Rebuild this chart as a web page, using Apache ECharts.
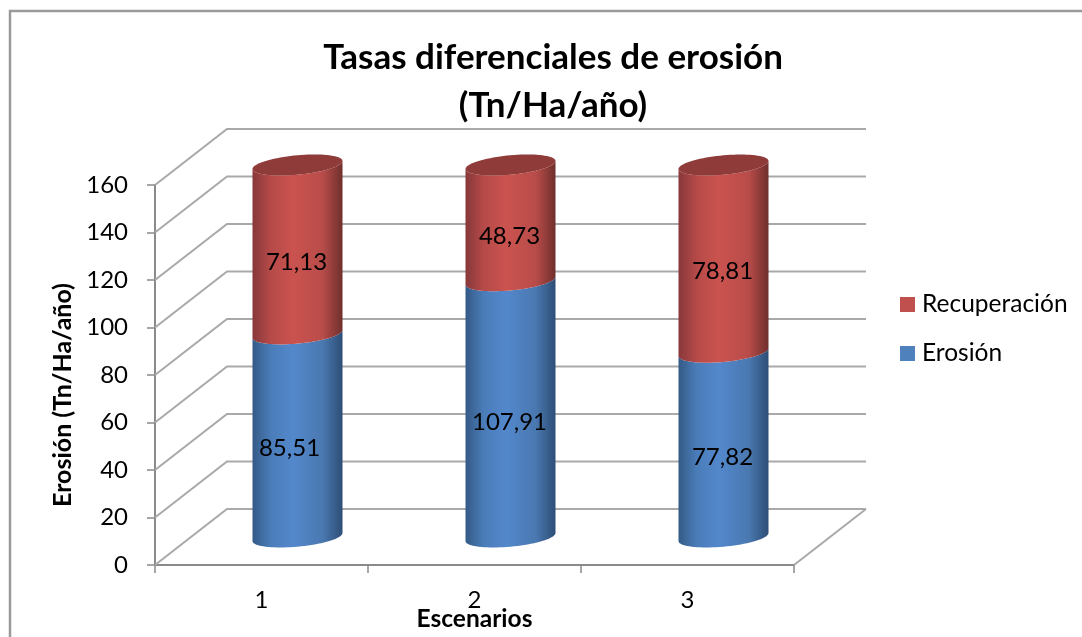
<!DOCTYPE html>
<html>
<head>
<meta charset="utf-8">
<style>
html, body { margin: 0; padding: 0; background: #fff; }
#chart { width: 1082px; height: 637px; }
</style>
<script src="https://cdn.jsdelivr.net/npm/echarts@6/dist/echarts.min.js"></script>
</head>
<body>
<div id="chart"></div>
<script>
const categories = ['1', '2', '3']
const yTicks = [0, 20, 40, 60, 80, 100, 120, 140, 160]
const erosion = [85.51, 107.91, 77.82]
const recovery = [71.13, 48.73, 78.81]

// 3D look: depth of the chart box and shape of the cylinders, in px
const depthX = 72
const depthY = 56
const radiusX = 45
const radiusY = 9.7
const tilt = -4

const fontName = 'Lato'
const blueStops = ['#345a86', '#4a7cb8', '#5388cc', '#4a78b0', '#2d4e76']
const redStops = ['#87383a', '#b54a48', '#cb534f', '#b84c49', '#6f2f2d']

const fmt = v => v.toFixed(2).replace('.', ',')

function sideGradient(c) {
    return {
        type: 'linear', x: 0, y: 0, x2: 1, y2: 0,
        colorStops: [
            { offset: 0, color: c[0] },
            { offset: 0.2, color: c[1] },
            { offset: 0.45, color: c[2] },
            { offset: 0.78, color: c[3] },
            { offset: 1, color: c[4] }
        ]
    }
}

function ellipsePoint(cx, cy, t) {
    return [cx + radiusX * Math.cos(t), cy + tilt * Math.cos(t) + radiusY * Math.sin(t)]
}

// body between two heights, both edges bulge downwards
function cylinderBody(cx, yBottom, yTop) {
    const pts = []
    for (let i = 0; i <= 40; i++) pts.push(ellipsePoint(cx, yBottom, Math.PI * i / 40))
    for (let i = 40; i >= 0; i--) pts.push(ellipsePoint(cx, yTop, Math.PI * i / 40))
    return pts
}

function topCap(cx, y) {
    const pts = []
    for (let i = 0; i < 80; i++) pts.push(ellipsePoint(cx, y, 2 * Math.PI * i / 80))
    return pts
}

function renderWall(params, api) {
    const sys = params.coordSys
    const left = sys.x
    const right = sys.x + sys.width
    const y = api.coord([0, api.value(0)])[1]
    const lineStyle = { stroke: '#a9a9a9', lineWidth: 2, fill: null }
    const children = [{
        type: 'polyline',
        shape: { points: [[left, y], [left + depthX, y - depthY], [right + depthX, y - depthY]] },
        style: lineStyle
    }]
    if (params.dataIndex === 0) {
        children.push({
            type: 'line',
            shape: { x1: right, y1: y, x2: right + depthX, y2: y - depthY },
            style: lineStyle
        })
    }
    return { type: 'group', children }
}

function renderCylinder(stops, isTop, labelShift) {
    return function (params, api) {
        const i = params.dataIndex
        const base = api.value(1)
        const val = api.value(2)
        const front = api.coord([i, base])
        const frontTop = api.coord([i, base + val])
        const cx = front[0] + depthX / 2
        const yB = front[1] - depthY / 2
        const yT = frontTop[1] - depthY / 2
        const children = [{
            type: 'polygon',
            shape: { points: cylinderBody(cx, yB, yT) },
            style: { fill: sideGradient(stops) }
        }]
        if (isTop) {
            children.push({
                type: 'polygon',
                shape: { points: topCap(cx, yT) },
                style: { fill: '#8e3b39' }
            })
        }
        children.push({
            type: 'text',
            style: {
                x: cx - 1 + labelShift[i], y: (yB + yT) / 2 + 13,
                text: fmt(val),
                fill: '#000', font: '24px ' + fontName,
                align: 'center', verticalAlign: 'middle'
            }
        })
        return { type: 'group', children }
    }
}

const chart = echarts.init(document.getElementById('chart'), null, { renderer: 'canvas' })
chart.setOption({
    animation: false,
    backgroundColor: '#fff',
    graphic: [{
        type: 'rect',
        shape: { x: 10, y: 11, width: 1100, height: 660 },
        style: { fill: null, stroke: '#9a9a9a', lineWidth: 2.5 },
        silent: true
    }],
    title: {
        text: 'Tasas diferenciales de erosión\n(Tn/Ha/año)',
        left: 548, top: 29, textAlign: 'center',
        textStyle: { fontFamily: fontName, fontWeight: 'bold', fontSize: 35, lineHeight: 48, color: '#000' }
    },
    legend: {
        data: ['Recuperación', 'Erosión'],
        orient: 'vertical', left: 895, top: 287,
        itemWidth: 15, itemHeight: 15, itemGap: 24, selectedMode: false,
        icon: 'rect',
        textStyle: { fontFamily: fontName, fontSize: 24.5, color: '#000', padding: [2, 0, 0, 2] }
    },
    grid: { left: 155, top: 185, width: 639, height: 380, outerBoundsMode: 'none' },
    xAxis: {
        type: 'category',
        data: categories,
        name: 'Escenarios',
        nameLocation: 'middle', nameGap: 42, nameMoveOverlap: false,
        nameTextStyle: { fontFamily: fontName, fontWeight: 'bold', fontSize: 24.5, color: '#000' },
        axisLine: { lineStyle: { color: '#8a8a8a', width: 2 } },
        axisTick: { show: true, alignWithLabel: false, length: 8, lineStyle: { color: '#8a8a8a', width: 1.5 } },
        axisLabel: { fontFamily: fontName, fontSize: 24, color: '#000', margin: 23 }
    },
    yAxis: {
        type: 'value', min: 0, max: 160, interval: 20,
        name: 'Erosión (Tn/Ha/año)',
        nameLocation: 'middle', nameGap: 80, nameRotate: 90, nameMoveOverlap: false,
        nameTextStyle: { fontFamily: fontName, fontWeight: 'bold', fontSize: 25, color: '#000', padding: [0, 40, 0, 0] },
        splitLine: { show: false },
        axisLine: { show: true, lineStyle: { color: '#8a8a8a', width: 2 } },
        axisTick: { show: true, length: 8, lineStyle: { color: '#8a8a8a', width: 1.5 } },
        axisLabel: { fontFamily: fontName, fontSize: 24, color: '#000', margin: 27, padding: [3, 0, 0, 0] }
    },
    series: [
        {
            name: 'pared',
            type: 'custom',
            silent: true,
            renderItem: renderWall,
            encode: { y: 0 },
            data: yTicks.map(v => [v]),
            z: 1
        },
        {
            name: 'Erosión',
            type: 'custom',
            itemStyle: { color: '#4f81bd' },
            renderItem: renderCylinder(blueStops, false, [-7, 0, 0]),
            encode: { x: 0, y: 1 },
            data: erosion.map((v, i) => [i, 0, v]),
            z: 2
        },
        {
            name: 'Recuperación',
            type: 'custom',
            itemStyle: { color: '#c0504d' },
            renderItem: renderCylinder(redStops, true, [0, 0, 0]),
            encode: { x: 0, y: 1 },
            data: recovery.map((v, i) => [i, erosion[i], v]),
            z: 3
        }
    ]
})
</script>
</body>
</html>
